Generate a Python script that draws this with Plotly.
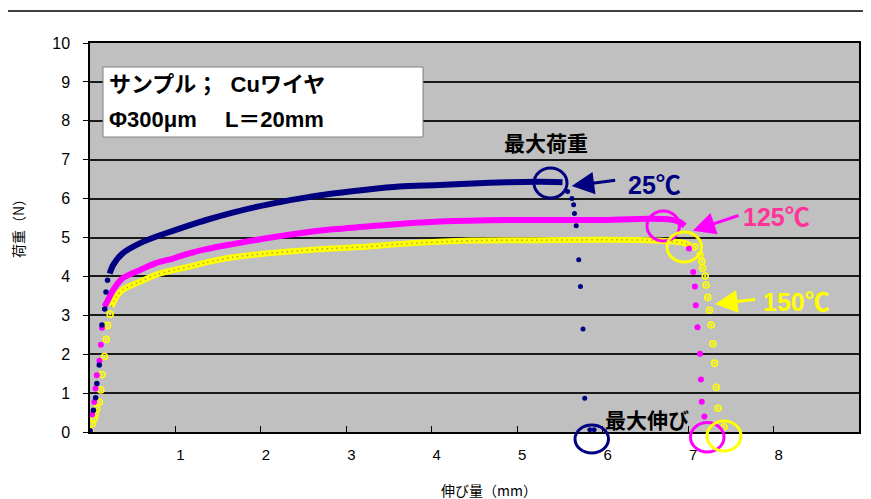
import plotly.graph_objects as go

# ---------------- data ----------------
# 25°C (navy)
n_rise_x = [0.0, 0.04, 0.066, 0.08, 0.108, 0.14, 0.172, 0.187, 0.205]
n_rise_y = [0.03, 0.56, 0.88, 1.25, 1.72, 2.75, 3.16, 3.6, 3.9]
n_body_x = [0.23, 0.27, 0.38, 0.58, 0.77, 0.97, 1.16, 1.36, 1.67, 2.06, 2.45, 2.84,
            3.23, 3.62, 4.09, 4.48, 4.87, 5.26, 5.53]
n_body_y = [4.07, 4.29, 4.59, 4.85, 5.02, 5.17, 5.31, 5.45, 5.64, 5.84, 6.0, 6.13,
            6.23, 6.31, 6.35, 6.39, 6.42, 6.43, 6.42]
n_drop_x = [5.59, 5.64, 5.66, 5.67, 5.69, 5.72, 5.74, 5.77, 5.79, 5.85, 5.9]
n_drop_y = [6.18, 6.0, 5.84, 5.62, 5.3, 4.43, 3.74, 2.65, 0.87, 0.06, 0.06]

# 125°C (magenta)
m_rise_x = [0.0, 0.025, 0.049, 0.064, 0.08, 0.11, 0.127, 0.14]
m_rise_y = [0.02, 0.45, 0.77, 1.12, 1.46, 1.83, 2.24, 2.68]
m_body_x = [0.17, 0.21, 0.27, 0.38, 0.58, 0.77, 0.97, 1.16, 1.36, 1.67, 2.06, 2.45,
            2.84, 3.23, 3.62, 4.09, 4.87, 5.5, 5.96, 6.54, 6.8, 6.9, 6.96]
m_body_y = [3.22, 3.39, 3.65, 3.95, 4.16, 4.34, 4.46, 4.59, 4.70, 4.83, 4.98, 5.11,
            5.21, 5.28, 5.35, 5.41, 5.45, 5.45, 5.45, 5.48, 5.46, 5.4, 5.3]
m_drop_x = [7.01, 7.06, 7.08, 7.09, 7.11, 7.14, 7.15, 7.16, 7.19]
m_drop_y = [4.72, 4.11, 3.74, 3.26, 2.69, 2.01, 1.35, 0.78, 0.40]

# 150°C (yellow)
y_rise_x = [0.0, 0.03, 0.05, 0.064, 0.08, 0.11, 0.127, 0.14, 0.17, 0.19, 0.205, 0.236]
y_rise_y = [0.03, 0.22, 0.35, 0.46, 0.6, 0.77, 1.08, 1.48, 1.94, 2.38, 2.74, 3.03]
y_body_x = [0.25, 0.31, 0.38, 0.58, 0.77, 0.97, 1.16, 1.36, 1.67, 2.06, 2.45,
            2.84, 3.23, 3.62, 4.48, 5.2, 5.96, 6.54, 6.93, 7.03]
y_body_y = [3.22, 3.48, 3.65, 3.86, 4.04, 4.16, 4.25, 4.36, 4.49, 4.59, 4.66,
            4.72, 4.76, 4.83, 4.92, 4.93, 4.94, 4.93, 4.87, 4.8]
y_drop_x = [7.08, 7.14, 7.16, 7.17, 7.20, 7.21, 7.23, 7.25, 7.27, 7.29, 7.31, 7.33, 7.35, 7.42]
y_drop_y = [4.76, 4.55, 4.38, 4.21, 4.01, 3.78, 3.46, 3.13, 2.75, 2.27, 1.77, 1.15, 0.61, 0.13]

x_ticks = [1, 2, 3, 4, 5, 6, 7, 8]
y_ticks = list(range(0, 11))

NAVY = "#000080"
MAG = "#FF00FF"
YEL = "#FFFF00"
FONT = "Liberation Sans, Arial, Noto Sans CJK JP, sans-serif"
JFONT = "Noto Sans CJK JP, Liberation Sans, sans-serif"

fig = go.Figure()

def dense(x, y, color, w=6):
    fig.add_trace(go.Scatter(x=x, y=y, mode="lines",
                             line=dict(color=color, width=w, shape="spline", smoothing=0.8),
                             hoverinfo="skip", showlegend=False))

def dots(x, y, color, size=5.5):
    fig.add_trace(go.Scatter(x=x, y=y, mode="markers",
                             marker=dict(color=color, size=size, line=dict(width=0)),
                             showlegend=False))

# yellow (150°C)
dense(y_body_x, y_body_y, YEL, 6)
fig.add_trace(go.Scatter(x=y_body_x, y=y_body_y, mode="lines",
                         line=dict(color="#a8a060", width=1.5, shape="spline", smoothing=0.8,
                                   dash="1.5px,3.5px"),
                         hoverinfo="skip", showlegend=False))
for xs, ys in [(y_rise_x, y_rise_y), (y_drop_x, y_drop_y)]:
    fig.add_trace(go.Scatter(x=xs, y=ys, mode="markers",
                             marker=dict(symbol="circle-open-dot", color=YEL, size=6,
                                         line=dict(width=1.6, color=YEL)),
                             showlegend=False))
# magenta (125°C)
dense(m_body_x, m_body_y, MAG, 6)
dots(m_rise_x, m_rise_y, MAG, 6)
dots(m_drop_x, m_drop_y, MAG, 6)
# navy (25°C)
dense(n_body_x, n_body_y, NAVY, 6)
dots(n_rise_x, n_rise_y, NAVY, 5.5)
dots(n_drop_x, n_drop_y, NAVY, 5)

# page layout (page pixel coords; page body has an 8px margin)
OFF = 8
PAGE_W, PAGE_H = 871, 499
PL, PR, PT, PB = 90, 859, 43, 432          # plot area edges in page pixels
W, H = PAGE_W - OFF, PAGE_H - OFF
L, T = PL - OFF, PT - OFF
R = W - (PR - OFF)
B = H - (PB - OFF)
PW, PH = PR - PL, PB - PT

def px(xpage):
    return (xpage - PL) / PW

def py(ypage):
    return (PB - ypage) / PH

shapes = []
shapes.append(dict(type="line", xref="paper", yref="paper", x0=px(0), x1=px(871), y0=py(11), y1=py(11),
                   line=dict(color="#404040", width=2)))
shapes.append(dict(type="rect", xref="paper", yref="paper", x0=px(103), x1=px(423), y0=py(137), y1=py(67),
                   fillcolor="white", line=dict(color="#808080", width=1)))
for (x0, x1, y0, y1, c) in [
    (534, 567, 198, 168, NAVY),
    (647, 679.5, 241, 211, MAG),
    (667, 701.5, 262, 232, YEL),
    (575, 608.5, 453, 425, NAVY),
    (690.5, 724, 452, 422.5, MAG),
    (707, 741, 451, 421, YEL),
]:
    shapes.append(dict(type="circle", xref="paper", yref="paper", x0=px(x0), x1=px(x1),
                       y0=py(y0), y1=py(y1), line=dict(color=c, width=3)))

def text(xl, yc, s, size, color, family, anchor="left"):
    return dict(xref="paper", yref="paper", x=px(xl), y=py(yc), xanchor=anchor, yanchor="middle",
                text=s, showarrow=False, borderpad=0, font=dict(family=family, size=size, color=color))

ann = []
ann.append(text(108, 85, "<b>サンプル；  Cuワイヤ</b>", 22, "black", FONT))
ann.append(text(108, 119, "<b>Φ300μm　 L＝20mm</b>", 22, "black", FONT))
ann.append(text(503, 142, "<b>最大荷重</b>", 21, "black", JFONT))
ann.append(text(604, 419, "<b>最大伸び</b>", 21, "black", JFONT))
ann.append(text(627, 185, "<b>25℃</b>", 25, NAVY, FONT))
ann.append(text(742, 217, "<b>125℃</b>", 25, "#FF3399", FONT))
ann.append(text(762, 302, "<b>150℃</b>", 25, YEL, FONT))
for (hx, hy, tx, ty, c) in [
    (571.7, 186, 616.7, 180, NAVY),
    (692.7, 230.7, 740, 215, MAG),
    (715, 304, 756.7, 299.3, YEL),
]:
    ann.append(dict(xref="paper", yref="paper", x=px(hx), y=py(hy), ax=tx - hx, ay=ty - hy,
                    text="", showarrow=True, arrowhead=2, arrowsize=1.5, arrowwidth=3, arrowcolor=c))
ann.append(text(440, 490, "伸び量（mm）", 14, "black", JFONT))
ann.append(dict(xref="paper", yref="paper", x=px(18), y=py(225), xanchor="center", yanchor="middle",
                text="荷重（N）", showarrow=False, textangle=-90,
                font=dict(family=JFONT, size=14, color="black")))

fig.update_layout(
    width=W, height=H,
    margin=dict(l=L, r=R, t=T, b=B, autoexpand=False),
    paper_bgcolor="white",
    plot_bgcolor="#C0C0C0",
    showlegend=False,
    shapes=shapes,
    annotations=ann,
    font=dict(family=FONT, size=16, color="black"),
)
fig.update_xaxes(range=[0, 9], tickvals=x_ticks, ticktext=[str(v) for v in x_ticks],
                 ticks="inside", ticklen=6, tickcolor="black", tickwidth=1,
                 showgrid=False, zeroline=False, showline=True, linecolor="black", linewidth=1.5,
                 mirror=True, ticklabelstandoff=8, ticklabelshift=5,
                 tickfont=dict(family=FONT, size=15, color="black"))
fig.update_yaxes(range=[0, 10], tickvals=y_ticks, ticks="outside", ticklen=5, tickcolor="black",
                 showgrid=True, gridcolor="#1a1a1a", gridwidth=1.5, zeroline=False,
                 showline=True, linecolor="black", linewidth=1.5, mirror=True,
                 ticklabelstandoff=10, tickfont=dict(family=FONT, size=16, color="black"))

fig.write_html("out.html")
